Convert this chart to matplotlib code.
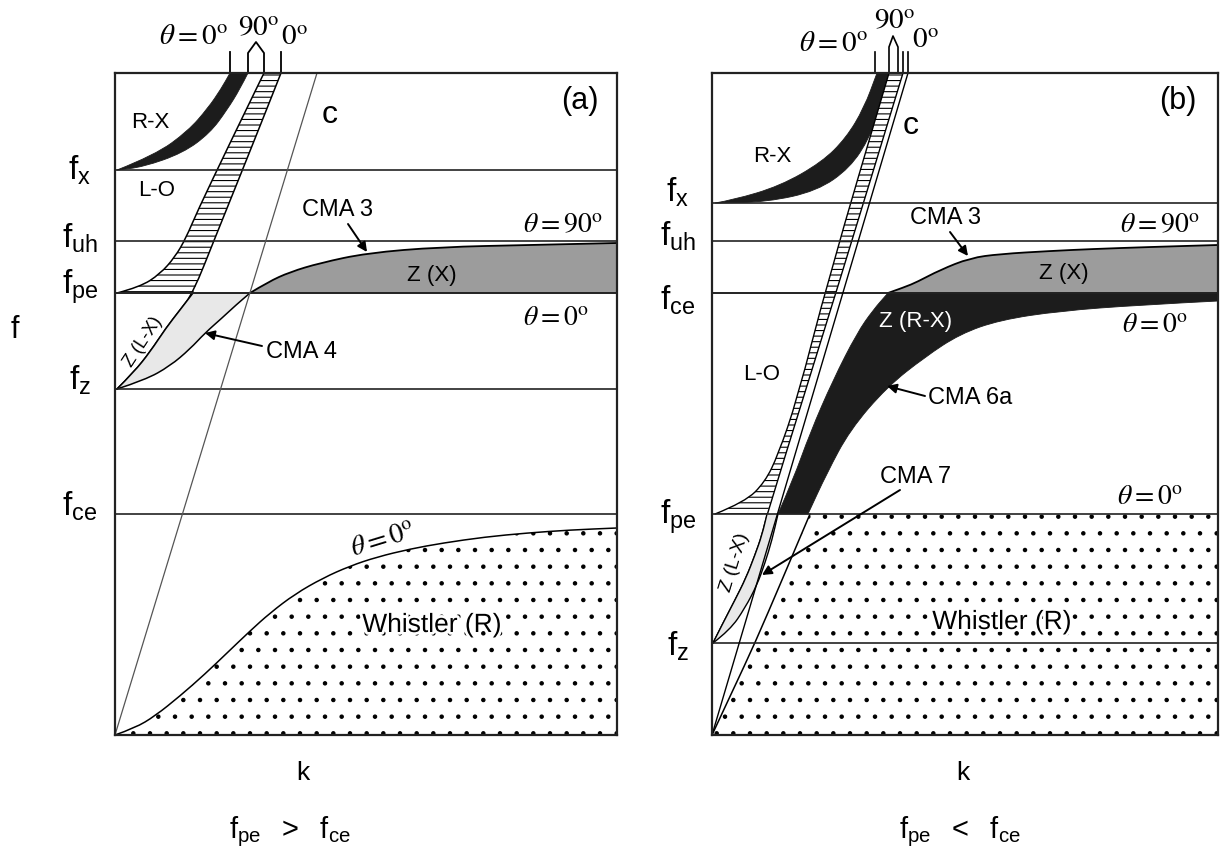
import matplotlib
matplotlib.use("Agg")
import matplotlib.pyplot as plt
import matplotlib.patheffects as pe
from matplotlib.path import Path
from matplotlib.patches import PathPatch

plt.rcParams['font.family'] = ['Liberation Sans', 'DejaVu Sans']
plt.rcParams['mathtext.fontset'] = 'custom'
plt.rcParams['mathtext.rm'] = 'Liberation Sans'
plt.rcParams['mathtext.it'] = 'Liberation Sans'
plt.rcParams['hatch.linewidth'] = 0.8

# === Données (unités du schéma : k horizontal, f vertical, f croît vers le haut) ===
# --- panneau (a) : fpe > fce ---
a_levels = [170, 241, 293, 389, 514]
a_level_names = ['x', 'uh', 'pe', 'z', 'ce']
a_label_f = [170, 238, 287, 380, 506]

a_rx_top_k = [117, 155, 188, 208, 221, 230]
a_rx_top_f = [170, 155, 131, 108, 89, 73]
a_rx_bot_k = [117, 143, 183, 210, 227, 240, 248]
a_rx_bot_f = [170, 167, 153, 133, 110, 89, 73]

a_lo90_k = [117, 140, 160, 175, 186, 197, 230, 264]
a_lo90_f = [293, 287, 274, 257, 238, 212, 143, 73]
a_lo0_k = [117, 134, 150, 166, 180, 193, 215, 240, 262, 281]
a_lo0_f = [389, 372, 352, 328, 310, 293, 238, 176, 121, 73]

a_cma4_k = [117, 145, 170, 190, 205, 222, 236, 250]
a_cma4_f = [389, 380, 366, 349, 333, 318, 305, 293]

a_zx_k = [250, 268, 290, 320, 367, 440, 530, 617]
a_zx_f = [293, 282, 272, 263, 253, 247, 245, 243]

a_wh_k = [115, 135, 155, 180, 205, 227, 250, 270, 295, 323, 350, 377, 410, 443, 485, 527, 570, 617]
a_wh_f = [735, 728, 716, 696, 674, 653, 631, 613, 594, 578, 566, 557, 549, 543, 537, 533, 530, 528]

a_c_k = [115, 317]
a_c_f = [735, 73]

# --- panneau (b) : fpe < fce ---
b_levels = [203, 241, 293, 514, 643]
b_level_names = ['x', 'uh', 'ce', 'pe', 'z']
b_label_f = [192, 236, 300, 517, 646]

b_rx_top_k = [715, 733, 780, 822, 846, 864, 877]
b_rx_top_f = [203, 200, 186, 162, 138, 108, 73]
b_rx_bot_k = [715, 767, 817, 850, 870, 882, 890]
b_rx_bot_f = [203, 202, 191, 168, 137, 105, 73]

b_lo90_k = [715, 745, 765, 778, 797, 828, 889]
b_lo90_f = [514, 502, 482, 455, 400, 280, 73]
b_lo0_k = [713, 722, 735, 746, 755, 762, 767, 840, 903]
b_lo0_f = [643, 625, 600, 578, 555, 535, 514, 280, 73]

b_cma7_k = [713, 730, 745, 757, 765, 772, 778]
b_cma7_f = [643, 630, 608, 585, 563, 540, 514]

b_zrx_k = [778, 793, 810, 833, 857, 873, 888]
b_zrx_f = [514, 480, 433, 380, 333, 310, 293]
b_cma6_k = [808, 827, 850, 887, 925, 960, 1000, 1060, 1140, 1218]
b_cma6_f = [514, 473, 430, 387, 357, 334, 320, 311, 305, 301]

b_zx_k = [888, 905, 917, 940, 970, 1000, 1050, 1093, 1150, 1218]
b_zx_f = [293, 287, 282, 270, 258, 254, 251, 249, 247, 245]

b_wh_k = [712, 733, 755, 782, 810]
b_wh_f = [735, 690, 643, 580, 514]

b_c_k = [712, 908]
b_c_f = [735, 73]

BLACK = "#1c1c1c"
GREY = "#9c9c9c"
LIGHT = "#e8e8e8"

W, H = 1221, 868
fig = plt.figure(figsize=(W / 100, H / 100), dpi=100)


def make_axes(x0, x1, y0, y1):
    ax = fig.add_axes([x0 / W, 1 - y1 / H, (x1 - x0) / W, (y1 - y0) / H])
    ax.set_xlim(x0, x1)
    ax.set_ylim(y1, y0)
    ax.set_xticks([])
    ax.set_yticks([])
    for s in ax.spines.values():
        s.set_linewidth(1.6)
        s.set_color("#222222")
    return ax


def piece(k, f, smooth=True):
    # tracé lissé (bézier quadratique passant par les milieux) ou segments droits
    v = [(k[0], f[0])]
    c = [Path.MOVETO]
    if not smooth:
        v += list(zip(k[1:], f[1:]))
        c += [Path.LINETO] * (len(k) - 1)
        return v, c
    for i in range(1, len(k) - 1):
        v += [(k[i], f[i]), ((k[i] + k[i + 1]) / 2, (f[i] + f[i + 1]) / 2)]
        c += [Path.CURVE3, Path.CURVE3]
    v.append((k[-1], f[-1]))
    c.append(Path.LINETO)
    return v, c


def curve(ax, k, f, lw=1.1, color="black"):
    v, c = piece(k, f)
    ax.add_patch(PathPatch(Path(v, c), fill=False, lw=lw, edgecolor=color, capstyle="round"))


def region(ax, parts, **kw):
    verts, codes = [], []
    for i, part in enumerate(parts):
        v, c = piece(*part)
        if i > 0:
            c[0] = Path.LINETO
        verts += v
        codes += c
    verts.append(verts[0])
    codes.append(Path.CLOSEPOLY)
    ax.add_patch(PathPatch(Path(verts, codes), **kw))


def upto(k, f, level, above=True):
    pts = [(x, y) for x, y in zip(k, f) if (y <= level if above else y >= level)]
    return [p[0] for p in pts], [p[1] for p in pts]


def theta(ax, x, y, txt, size=19, rot=0):
    ax.text(x, y, txt, ha="center", va="center", fontsize=size, rotation=rot,
            math_fontfamily="stix", clip_on=False)


def flabel(ax, x, y, sub):
    ax.text(x, y, r"$\mathrm{f}_{\mathrm{%s}}$" % sub, ha="center", va="center",
            fontsize=24, clip_on=False)


def cma(ax, txt, xy_txt, xy_from, xy_to):
    ax.text(*xy_txt, txt, ha="center", va="center", fontsize=17)
    ax.annotate("", xy=xy_to, xytext=xy_from,
                arrowprops=dict(arrowstyle="-|>", color="black", lw=1.4, mutation_scale=14,
                                shrinkA=0, shrinkB=0))


halo = [pe.withStroke(linewidth=4, foreground="white")]

# ================= Panneau (a) =================
ax = make_axes(115, 617, 73, 735)

region(ax, [(a_wh_k, a_wh_f), ([617, 617, 115], [528, 735, 735], False)], facecolor="white",
       edgecolor="black", hatch=".", linewidth=0)
curve(ax, a_wh_k, a_wh_f)

for lv in a_levels:
    ax.axhline(lv, color="#222222", lw=1.2)

region(ax, [(a_rx_top_k, a_rx_top_f), (a_rx_bot_k[::-1], a_rx_bot_f[::-1])],
       facecolor=BLACK, edgecolor=BLACK, lw=0.6)

k0, f0 = upto(a_lo0_k, a_lo0_f, 293)
region(ax, [(a_lo90_k, a_lo90_f), (k0[::-1], f0[::-1])], facecolor="white",
       edgecolor="black", hatch="---", linewidth=0)
curve(ax, a_lo90_k, a_lo90_f)
curve(ax, a_lo0_k, a_lo0_f)

k1, f1 = upto(a_lo0_k, a_lo0_f, 293, above=False)
region(ax, [(k1, f1), (a_cma4_k[::-1], a_cma4_f[::-1])], facecolor=LIGHT, linewidth=0)
curve(ax, k1, f1)
curve(ax, a_cma4_k, a_cma4_f)

region(ax, [(a_zx_k, a_zx_f), ([617, 250], [293, 293], False)], facecolor=GREY, linewidth=0)
curve(ax, a_zx_k, a_zx_f, lw=1.3)
ax.axhline(293, color="#222222", lw=1.2)

ax.plot(a_c_k, a_c_f, color="#555555", lw=0.9)

for t in [230, 281]:
    ax.plot([t, t], [73, 52], color="black", lw=1.3, clip_on=False)
ax.plot([248, 248, 256, 264, 264], [73, 53, 42, 53, 73], color="black", lw=1.3, clip_on=False)
theta(ax, 193, 36, r"$\theta = 0^{\mathrm{o}}$", 21)
theta(ax, 259, 27, r"$90^{\mathrm{o}}$", 21)
theta(ax, 294, 37, r"$0^{\mathrm{o}}$", 21)

ax.text(150, 123, "R-X", ha="center", va="center", fontsize=16)
ax.text(330, 115, "c", ha="center", va="center", fontsize=23)
ax.text(580, 101, "(a)", ha="center", va="center", fontsize=22)
ax.text(157, 191, "L-O", ha="center", va="center", fontsize=16)
theta(ax, 563, 225, r"$\theta =90^{\mathrm{o}}$", 20)
ax.text(432, 275, "Z (X)", ha="center", va="center", fontsize=16)
theta(ax, 556, 318, r"$\theta = 0^{\mathrm{o}}$", 20)
ax.text(143, 342, "Z (L-X)", ha="center", va="center", fontsize=13, rotation=57)
theta(ax, 383, 540, r"$\theta =0^{\mathrm{o}}$", 20, rot=17)
ax.text(432, 625, "Whistler (R)", ha="center", va="center", fontsize=19, path_effects=halo)
cma(ax, "CMA 3", (337, 210), (348, 224), (367, 252))
cma(ax, "CMA 4", (302, 352), (262, 346), (205, 333))

for lv, name in zip(a_label_f, a_level_names):
    flabel(ax, 80, lv, name)
ax.text(15, 330, "f", ha="center", va="center", fontsize=22, clip_on=False)
ax.text(303, 773, "k", ha="center", va="center", fontsize=19, clip_on=False)
ax.text(290, 832, r"$\mathrm{f}_{\mathrm{pe}}\ \ >\ \ \mathrm{f}_{\mathrm{ce}}$", ha="center",
        va="center", fontsize=21, clip_on=False)

# ================= Panneau (b) =================
ax = make_axes(712, 1218, 73, 735)

region(ax, [(b_wh_k, b_wh_f), ([1218, 1218, 712], [514, 735, 735], False)], facecolor="white",
       edgecolor="black", hatch=".", linewidth=0)
curve(ax, b_wh_k, b_wh_f)

for lv in b_levels:
    ax.axhline(lv, color="#222222", lw=1.2)

region(ax, [(b_rx_top_k, b_rx_top_f), (b_rx_bot_k[::-1], b_rx_bot_f[::-1])],
       facecolor=BLACK, edgecolor=BLACK, lw=0.6)

k0, f0 = upto(b_lo0_k, b_lo0_f, 514)
region(ax, [(b_lo90_k, b_lo90_f), (k0[::-1], f0[::-1])], facecolor="white",
       edgecolor="black", hatch="---", linewidth=0)
curve(ax, b_lo90_k, b_lo90_f, lw=1.0)
curve(ax, b_lo0_k, b_lo0_f, lw=1.0)

k1, f1 = upto(b_lo0_k, b_lo0_f, 514, above=False)
region(ax, [(k1, f1), (b_cma7_k[::-1], b_cma7_f[::-1])], facecolor=LIGHT, linewidth=0)
curve(ax, k1, f1, lw=1.0)
curve(ax, b_cma7_k, b_cma7_f, lw=1.0)

region(ax, [(b_zx_k, b_zx_f), ([1218, 888], [293, 293], False)], facecolor=GREY, linewidth=0)
curve(ax, b_zx_k, b_zx_f, lw=1.3)

region(ax, [(b_zrx_k, b_zrx_f), ([888, 1218], [293, 293], False),
            (b_cma6_k[::-1], b_cma6_f[::-1])],
       facecolor=BLACK, edgecolor=BLACK, lw=0.6)
ax.axhline(293, color="#222222", lw=1.2)

ax.plot(b_c_k, b_c_f, color="black", lw=1.0)

for t in [875, 903, 908]:
    ax.plot([t, t], [73, 52], color="black", lw=1.2, clip_on=False)
ax.plot([889, 889, 893, 898, 898], [73, 47, 36, 47, 73], color="black", lw=1.2, clip_on=False)
theta(ax, 833, 43, r"$\theta = 0^{\mathrm{o}}$", 21)
theta(ax, 895, 20, r"$90^{\mathrm{o}}$", 21)
theta(ax, 925, 40, r"$0^{\mathrm{o}}$", 21)

ax.text(772, 157, "R-X", ha="center", va="center", fontsize=16)
ax.text(911, 126, "c", ha="center", va="center", fontsize=23)
ax.text(1178, 101, "(b)", ha="center", va="center", fontsize=22)
theta(ax, 1160, 225, r"$\theta =90^{\mathrm{o}}$", 20)
ax.text(1064, 274, "Z (X)", ha="center", va="center", fontsize=16)
ax.text(916, 321, "Z (R-X)", ha="center", va="center", fontsize=16, color="white")
theta(ax, 1155, 325, r"$\theta =0^{\mathrm{o}}$", 20)
ax.text(762, 375, "L-O", ha="center", va="center", fontsize=16)
theta(ax, 1150, 497, r"$\theta =0^{\mathrm{o}}$", 20)
ax.text(735, 562, "Z (L-X)", ha="center", va="center", fontsize=14, rotation=73)
ax.text(1002, 622, "Whistler (R)", ha="center", va="center", fontsize=19, path_effects=halo)
cma(ax, "CMA 3", (945, 218), (950, 232), (968, 256))
cma(ax, "CMA 6a", (970, 398), (925, 396), (887, 386))
cma(ax, "CMA 7", (916, 477), (900, 490), (762, 575))

for lv, name in zip(b_label_f, b_level_names):
    flabel(ax, 678, lv, name)
ax.text(963, 773, "k", ha="center", va="center", fontsize=19, clip_on=False)
ax.text(960, 832, r"$\mathrm{f}_{\mathrm{pe}}\ \ <\ \ \mathrm{f}_{\mathrm{ce}}$", ha="center",
        va="center", fontsize=21, clip_on=False)

fig.savefig("out.png", dpi=100)
